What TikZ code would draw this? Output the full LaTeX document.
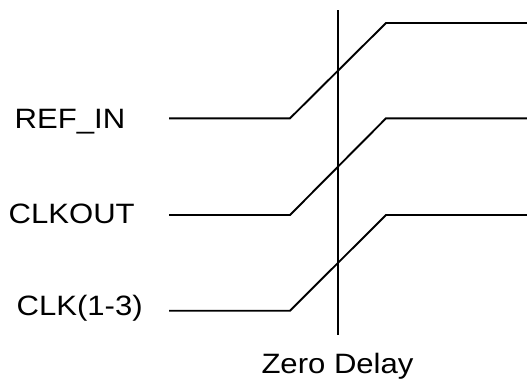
\documentclass[tikz,border=0pt]{standalone}
\usepackage{fontspec}
\setmainfont{Liberation Sans}
\newfontfamily\lblfont[FakeStretch=1.11]{Liberation Sans}
\begin{document}
\begin{tikzpicture}[x=1pt,y=-1pt,
  lbl/.style={inner sep=0pt,anchor=base,font=\lblfont\fontsize{28}{34}\selectfont},
  wave/.style={line width=1.9pt,line join=miter},
  marker/.style={line width=1.9pt}]
\useasboundingbox (0,0) rectangle (527,381);
% labels
\node[lbl] (ref) at (70,128.3) {REF\_IN};
\node[lbl] (clkout) at (71.7,223.3) {CLKOUT};
\node[lbl] (clk) at (79.7,315) {CLK(1-3)};
\node[lbl] (zd) at (337.5,373.3) {Zero Delay};
% waveform coordinates
\coordinate (a0) at (169,118.3);
\coordinate (a1) at (290,118.3);
\coordinate (a2) at (386,23);
\coordinate (a3) at (527,23);
\coordinate (b0) at (169,215);
\coordinate (b1) at (290,215);
\coordinate (b2) at (386,118.3);
\coordinate (b3) at (527,118.3);
\coordinate (c0) at (169,310.7);
\coordinate (c1) at (290,310.7);
\coordinate (c2) at (386,215);
\coordinate (c3) at (527,215);
\coordinate (vt) at (337.7,10);
\coordinate (vb) at (337.7,335);
% waveforms
\draw[wave] (a0) -- (a1) -- (a2) -- (a3);
\draw[wave] (b0) -- (b1) -- (b2) -- (b3);
\draw[wave] (c0) -- (c1) -- (c2) -- (c3);
% zero delay marker
\draw[marker] (vt) -- (vb);
\end{tikzpicture}
\end{document}
